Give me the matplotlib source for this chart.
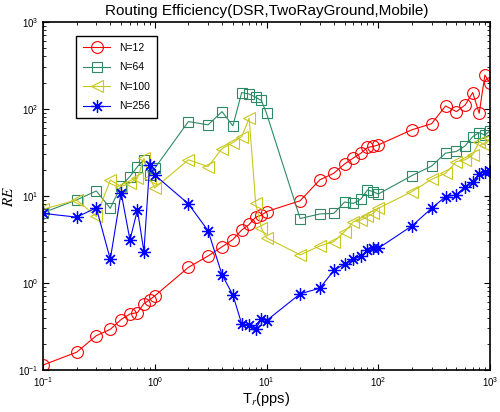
import numpy as np
import matplotlib
matplotlib.use("Agg")
import matplotlib.pyplot as plt

plt.rcParams['font.family'] = ['Liberation Sans', 'DejaVu Sans']
plt.rcParams['mathtext.fontset'] = 'stix'

# 送信レート (pps)
x = [0.1, 0.2, 0.3, 0.4, 0.5, 0.6, 0.7, 0.8, 0.9, 1,
     2, 3, 4, 5, 6, 7, 8, 9, 10,
     20, 30, 40, 50, 60, 70, 80, 90, 100,
     200, 300, 400, 500, 600, 700, 800, 900, 1000]

re_12 = [0.114, 0.16, 0.248, 0.293, 0.38, 0.44, 0.456, 0.58, 0.64, 0.71,
         1.51, 2.04, 2.6, 3.15, 4.06, 4.7, 5.7, 6.0, 6.6,
         8.8, 15.3, 18.2, 23.3, 27.3, 31, 36, 37, 38.5,
         57.5, 67.5, 108, 93, 111, 154, 89, 245, 197]

re_64 = [6.4, 9.0, 11.4, 7.2, 13.1, 16.7, 21.7, 26, 17.4, 20.8,
         71.5, 65.5, 93, 63.8, 154, 148, 136, 125, 89,
         5.5, 6.2, 6.3, 8.5, 8.2, 9.2, 11.7, 11.2, 10.5,
         17.1, 22, 31, 32.4, 37.6, 48, 53.4, 50, 56]

re_100 = [7.0, 9.0, 5.8, 15.2, 12.8, 14, 16, 27, 16, 12.3,
          26, 21.7, 35, 41, 48, 78, 8.2, 4.25, 3.3,
          2.1, 2.66, 2.98, 3.89, 5.07, 5.3, 5.8, 6.3, 7.2,
          11.2, 15.5, 18.2, 24.8, 26, 29.6, 42, 38.5, 46]

re_256 = [6.3, 5.7, 7.3, 1.87, 10.9, 3.12, 6.9, 2.29, 22.7, 17.4,
          8.1, 3.99, 1.24, 0.73, 0.338, 0.329, 0.293, 0.39, 0.369,
          0.75, 0.87, 1.39, 1.65, 1.87, 2.04, 2.39, 2.5, 2.5,
          4.52, 7.2, 9.8, 10.3, 12.8, 14.6, 17.9, 19, 19.4]

fig = plt.figure(figsize=(5, 4.12), dpi=100)
ax = fig.add_axes([0.086, 0.102, 0.894, 0.845])

ax.loglog(x, re_12, '-o', color='#ff0000', mfc='none', ms=8.5, lw=0.8, mew=0.8, label='N=12')
ax.loglog(x, re_64, '-s', color='#2e8a64', mfc='none', ms=7.5, lw=0.8, mew=0.8, label='N=64')
ax.loglog(x, re_100, '-<', color='#c8c81e', mfc='none', ms=9, lw=0.8, mew=0.8, label='N=100')
ax.loglog(x, re_256, '-', marker=(8, 2, 0), color='#0000ff', ms=9, lw=0.8, mew=0.9, label='N=256')

ax.set_xlim(0.1, 1000)
ax.set_ylim(0.1, 1000)
ax.tick_params(which='both', direction='in', top=True, right=True, labelsize=7)
ax.tick_params(which='major', length=4)
ax.tick_params(which='minor', length=2)
for s in ax.spines.values():
    s.set_linewidth(1.2)

ax.set_title('Routing Efficiency(DSR,TwoRayGround,Mobile)', fontsize=11, pad=5)
ax.set_xlabel('T$_r$(pps)', fontsize=10.5, labelpad=1)
ax.set_ylabel(r'$\overline{RE}$', fontsize=11, labelpad=0)

leg = ax.legend(loc='upper left', bbox_to_anchor=(0.062, 0.975), fontsize=7.5,
                fancybox=False, edgecolor='black', framealpha=1,
                handlelength=2.6, labelspacing=0.9, borderpad=0.7)
leg.get_frame().set_linewidth(1.0)

fig.savefig('out.png', dpi=100)
